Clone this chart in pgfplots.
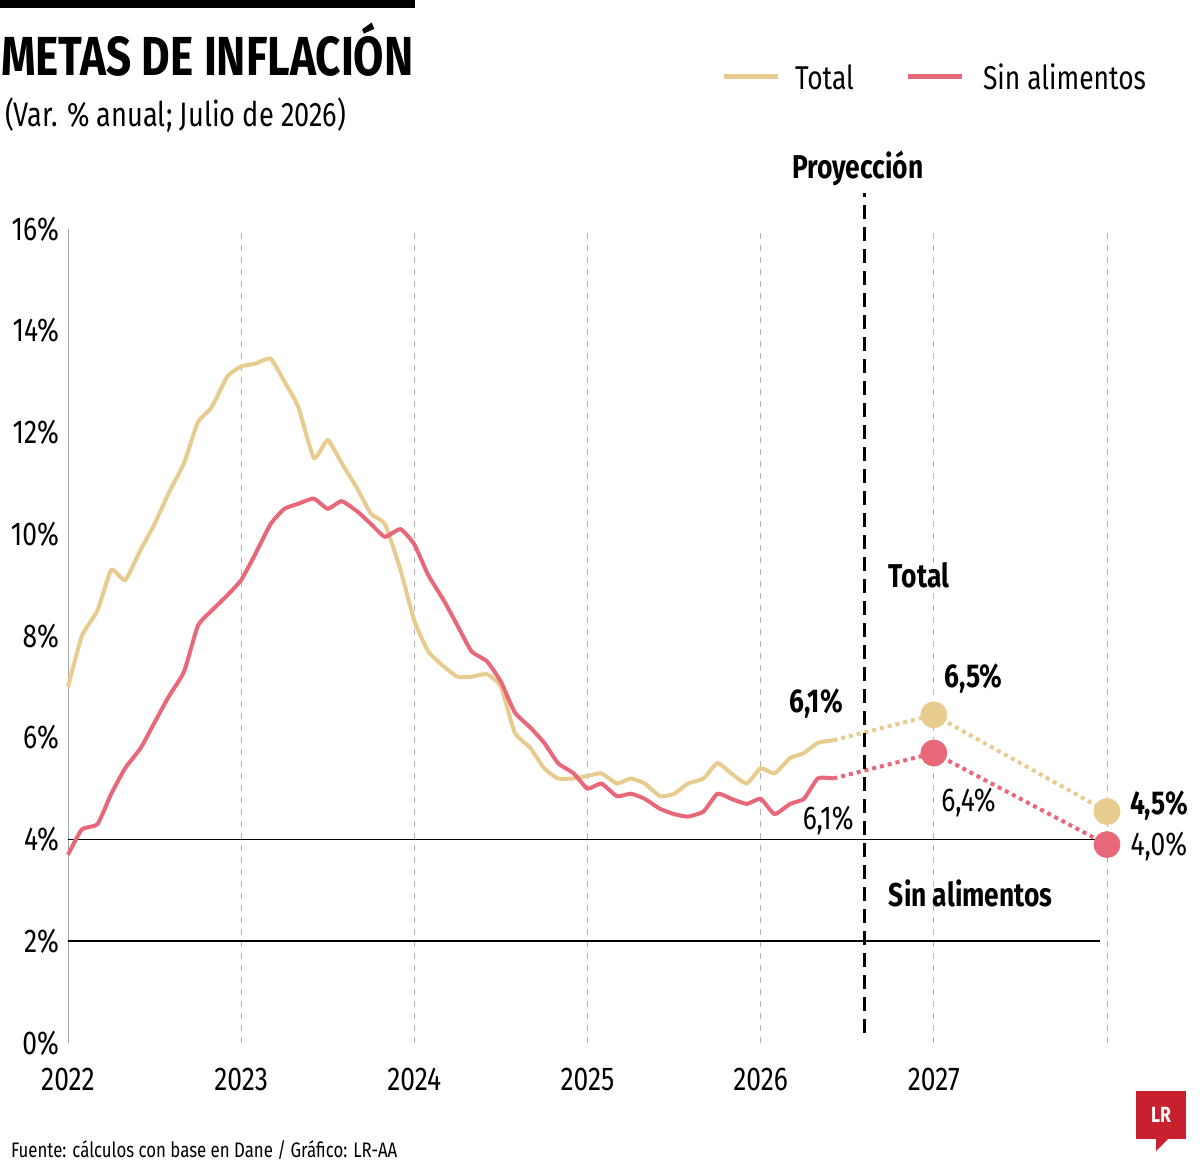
\documentclass[border=0pt]{standalone}
\usepackage{pgfplots}
\pgfplotsset{compat=1.18}
\usepackage{fontspec}
\setmainfont{Fira Sans}[FakeStretch=0.8]
\definecolor{tan}{HTML}{E8CB8E}
\definecolor{pk}{HTML}{E8687A}
\definecolor{lrred}{HTML}{C8202F}
\begin{document}
\begin{tikzpicture}
\path[use as bounding box] (0,0) rectangle (600pt,584.5pt);
\fill (0,584.5pt) rectangle (207.5pt,580.5pt);
\node[anchor=west,font=\bfseries\fontsize{27.5}{29}\selectfont] at (-3pt,559.5pt) {METAS DE INFLACIÓN};
\node[anchor=west,font=\fontsize{17}{19}\selectfont] at (-1pt,527pt) {(Var. \% anual; Julio de 2026)};
\draw[tan,line width=2.5pt] (362pt,546pt) -- (389pt,546pt);
\node[anchor=west,font=\fontsize{16.5}{18}\selectfont] at (394pt,546pt) {Total};
\draw[pk,line width=2.5pt] (454pt,546pt) -- (481pt,546pt);
\node[anchor=west,font=\fontsize{16.5}{18}\selectfont] at (488pt,546pt) {Sin alimentos};
\node[anchor=west,font=\fontsize{10.5}{12}\selectfont] at (2pt,9.5pt) {Fuente: cálculos con base en Dane / Gráfico: LR-AA};
\fill[lrred] (568pt,15pt) rectangle (593pt,39pt);
\fill[lrred] (578pt,15pt) -- (584pt,15pt) -- (578pt,9pt) -- cycle;
\node[white,font=\bfseries\fontsize{11}{12}\selectfont] at (580.5pt,27pt) {LR};
\begin{axis}[
 at={(34pt,63pt)}, anchor=south west, scale only axis,
 width=519.5pt, height=407pt,
 xmin=2022, xmax=2028, ymin=0, ymax=16,
 clip=false,
 axis line style={draw=none},
 xtick={2022,2023,2024,2025,2026,2027},
 xticklabels={2022,2023,2024,2025,2026,2027},
 ytick={0,2,...,16},
 yticklabel={\pgfmathprintnumber{\tick}\%},
 tick style={draw=none},
 ticklabel style={font=\fontsize{16.5}{18}\selectfont},
 /pgf/number format/assume math mode=true,
 yticklabel style={xshift=-1pt},
 xticklabel style={yshift=-9pt},
]
\draw[gray!70] (axis cs:2022,0) -- (axis cs:2022,16);
\foreach \x in {2023,2024,2025,2026,2027,2028}{
 \edef\tmp{\noexpand\draw[gray!60,dashed] (axis cs:\x,0) -- (axis cs:\x,16);}\tmp}
\draw[black,line width=0.8pt] (axis cs:2022,4) -- (axis cs:2027.96,4);
\draw[black,line width=0.8pt] (axis cs:2022,2) -- (axis cs:2027.96,2);
\addplot[tan,line width=2pt,smooth,tension=0.3] coordinates {
(2022.0,7.0)(2022.08,8.0)(2022.17,8.5)(2022.25,9.3)(2022.33,9.1)(2022.42,9.7)(2022.5,10.2)(2022.58,10.8)(2022.67,11.4)(2022.75,12.2)(2022.83,12.5)(2022.92,13.1)(2023.0,13.3)(2023.08,13.35)(2023.17,13.45)(2023.25,13.0)(2023.33,12.5)(2023.42,11.5)(2023.5,11.85)(2023.58,11.4)(2023.67,10.9)(2023.75,10.4)(2023.83,10.2)(2023.92,9.3)(2024.0,8.3)(2024.08,7.7)(2024.17,7.4)(2024.25,7.2)(2024.33,7.2)(2024.42,7.25)(2024.5,7.0)(2024.58,6.1)(2024.67,5.8)(2024.75,5.4)(2024.83,5.2)(2024.92,5.2)(2025.0,5.25)(2025.08,5.3)(2025.17,5.1)(2025.25,5.2)(2025.33,5.1)(2025.42,4.85)(2025.5,4.9)(2025.58,5.1)(2025.67,5.2)(2025.75,5.5)(2025.83,5.3)(2025.92,5.1)(2026.0,5.4)(2026.08,5.3)(2026.17,5.6)(2026.25,5.7)(2026.33,5.9)(2026.42,5.95)};
\addplot[pk,line width=2pt,smooth,tension=0.3] coordinates {
(2022.0,3.7)(2022.08,4.2)(2022.17,4.3)(2022.25,4.9)(2022.33,5.4)(2022.42,5.8)(2022.5,6.3)(2022.58,6.8)(2022.67,7.3)(2022.75,8.2)(2022.83,8.5)(2022.92,8.8)(2023.0,9.1)(2023.08,9.6)(2023.17,10.2)(2023.25,10.5)(2023.33,10.6)(2023.42,10.7)(2023.5,10.5)(2023.58,10.65)(2023.67,10.45)(2023.75,10.2)(2023.83,9.95)(2023.92,10.1)(2024.0,9.8)(2024.08,9.2)(2024.17,8.7)(2024.25,8.2)(2024.33,7.7)(2024.42,7.5)(2024.5,7.1)(2024.58,6.5)(2024.67,6.2)(2024.75,5.9)(2024.83,5.5)(2024.92,5.3)(2025.0,5.0)(2025.08,5.1)(2025.17,4.85)(2025.25,4.9)(2025.33,4.8)(2025.42,4.6)(2025.5,4.5)(2025.58,4.45)(2025.67,4.55)(2025.75,4.9)(2025.83,4.8)(2025.92,4.7)(2026.0,4.8)(2026.08,4.5)(2026.17,4.7)(2026.25,4.8)(2026.33,5.2)(2026.42,5.2)};
\addplot[tan,line width=2pt,dotted] coordinates {(2026.42,5.95)(2027,6.45)(2028,4.55)};
\addplot[pk,line width=2pt,dotted] coordinates {(2026.42,5.2)(2027,5.7)(2028,3.9)};
\addplot[only marks,mark=*,mark size=6.5pt,tan] coordinates {(2027,6.45)(2028,4.55)};
\addplot[only marks,mark=*,mark size=6.5pt,pk] coordinates {(2027,5.7)(2028,3.9)};
\draw[black,line width=1.6pt,dash pattern=on 7pt off 4pt] (axis cs:2026.6,0.2) -- (axis cs:2026.6,16.7);
\node[font=\bfseries\fontsize{16.5}{18}\selectfont] at (axis cs:2026.56,17.2) {Proyección};
\node[anchor=west,font=\bfseries\fontsize{16.5}{18}\selectfont] at (axis cs:2026.7,9.2) {Total};
\node[anchor=west,font=\bfseries\fontsize{16.5}{18}\selectfont] at (axis cs:2026.7,2.95) {Sin alimentos};
\node[font=\bfseries\fontsize{16.5}{18}\selectfont] at (axis cs:2026.32,6.68) {6,1\%};
\node[font=\bfseries\fontsize{16.5}{18}\selectfont] at (axis cs:2027.23,7.17) {6,5\%};
\node[font=\fontsize{16.5}{18}\selectfont] at (axis cs:2027.2,4.72) {6,4\%};
\node[font=\fontsize{16.5}{18}\selectfont] at (axis cs:2026.39,4.38) {6,1\%};
\node[font=\bfseries\fontsize{16.5}{18}\selectfont] at (axis cs:2028.3,4.66) {4,5\%};
\node[font=\fontsize{16.5}{18}\selectfont] at (axis cs:2028.3,3.87) {4,0\%};
\end{axis}
\end{tikzpicture}
\end{document}
